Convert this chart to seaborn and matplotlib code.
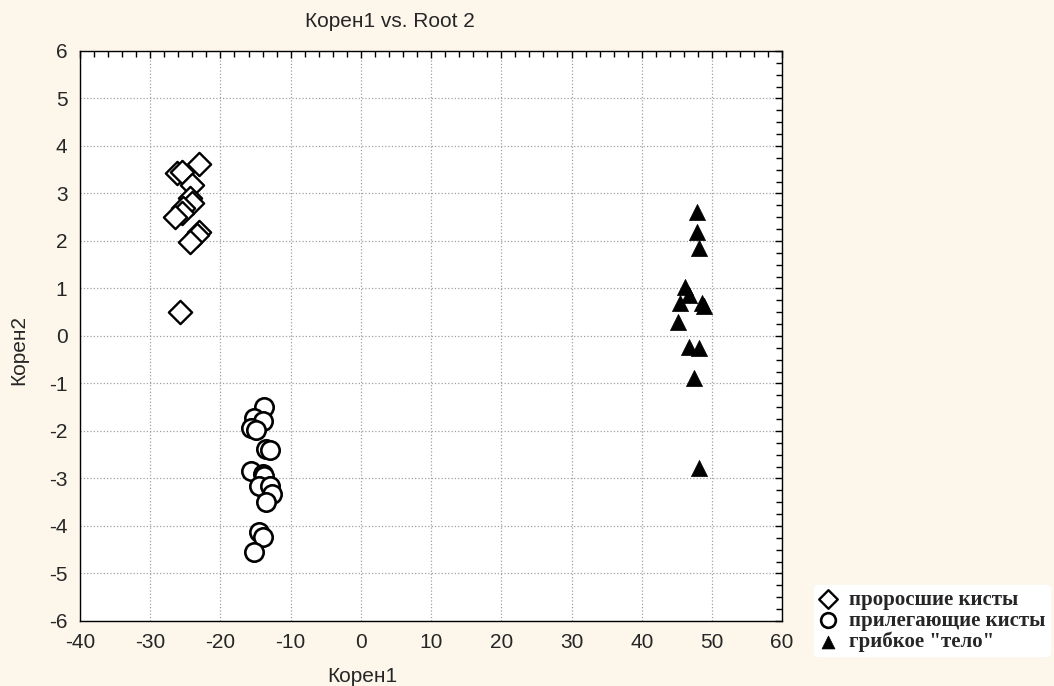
import numpy as np
import pandas as pd
import matplotlib
matplotlib.use('Agg')
import matplotlib.pyplot as plt
import seaborn as sns
from matplotlib.ticker import MultipleLocator

# Data
sprout_x = [-23.1, -26.2, -25.5, -24.0, -24.4, -24.0, -25.4, -25.5, -26.5, -23.0, -23.4, -24.4, -25.7]
sprout_y = [3.62, 3.42, 3.46, 3.17, 2.90, 2.80, 2.70, 2.58, 2.50, 2.18, 2.12, 1.97, 0.50]

adjacent_x = [-13.8, -15.2, -14.0, -15.6, -14.9, -13.5, -13.0, -15.6, -14.0, -13.8, -14.5,
              -13.0, -12.6, -13.5, -14.5, -14.0, -15.2]
adjacent_y = [-1.50, -1.72, -1.80, -1.93, -1.97, -2.39, -2.40, -2.85, -2.90, -2.95, -3.16,
              -3.16, -3.33, -3.50, -4.13, -4.24, -4.55]

body_x = [47.9, 47.9, 48.2, 46.1, 46.8, 45.5, 48.6, 48.9, 45.1, 46.8, 48.2, 47.5, 48.2]
body_y = [2.60, 2.18, 1.85, 1.03, 0.86, 0.69, 0.69, 0.63, 0.29, -0.23, -0.25, -0.88, -2.77]

groups = ['проросшие кисты', 'прилегающие кисты', 'грибкое "тело"']

df = pd.concat([
    pd.DataFrame({'Корен1': sprout_x, 'Корен2': sprout_y, 'group': groups[0]}),
    pd.DataFrame({'Корен1': adjacent_x, 'Корен2': adjacent_y, 'group': groups[1]}),
    pd.DataFrame({'Корен1': body_x, 'Корен2': body_y, 'group': groups[2]}),
])

sns.set_style('white')
plt.rcParams['font.family'] = ['Liberation Sans', 'DejaVu Sans']
plt.rcParams['axes.unicode_minus'] = False

bg = '#fcf7ea'
fig = plt.figure(figsize=(10.54, 6.86), dpi=100, facecolor=bg)
ax = fig.add_axes([0.0759, 0.0948, 0.6662, 0.831])
ax.set_facecolor('white')

# hollow diamonds, hollow circles, filled triangles
sns.scatterplot(data=df[df.group == groups[0]], x='Корен1', y='Корен2', marker='D', s=140,
                facecolor='white', edgecolor='black', linewidth=1.7, ax=ax, label=groups[0], zorder=3)
sns.scatterplot(data=df[df.group == groups[1]], x='Корен1', y='Корен2', marker='o', s=175,
                facecolor='white', edgecolor='black', linewidth=1.9, ax=ax, label=groups[1], zorder=3)
sns.scatterplot(data=df[df.group == groups[2]], x='Корен1', y='Корен2', marker='^', s=135,
                color='black', edgecolor='black', linewidth=0.5, ax=ax, label=groups[2], zorder=3)

ax.set_xlim(-40, 60)
ax.set_ylim(-6, 6)
ax.xaxis.set_major_locator(MultipleLocator(10))
ax.xaxis.set_minor_locator(MultipleLocator(2))
ax.yaxis.set_major_locator(MultipleLocator(1))
ax.yaxis.set_minor_locator(MultipleLocator(0.25))
ax.tick_params(which='both', direction='in', top=True, right=True, color='black', width=1)
ax.tick_params(which='major', length=5, labelsize=15, pad=9)
ax.tick_params(which='minor', length=4)
ax.grid(True, which='major', linestyle=':', color='#a0a0a0', linewidth=0.9)
for sp in ax.spines.values():
    sp.set_color('black')
    sp.set_linewidth(1)

ax.set_xlabel('Корен1', fontsize=15)
ax.set_ylabel('Корен2', fontsize=15)
ax.xaxis.set_label_coords(0.4017, -0.081)
ax.yaxis.set_label_coords(-0.074, 0.475)
fig.text(0.37, 0.968, 'Корен1 vs. Root 2', ha='center', va='center', fontsize=15)

ax.get_legend().remove()
handles, labels = ax.get_legend_handles_labels()
leg = fig.legend(handles, labels, loc='lower left', bbox_to_anchor=(0.762, 0.028),
                 frameon=True, facecolor='white', edgecolor='white', framealpha=1,
                 prop={'family': 'Liberation Serif', 'weight': 'bold', 'size': 15},
                 handletextpad=0.5, labelspacing=0.05, borderpad=0.2, handlelength=1.0,
                 markerscale=0.8)

fig.savefig('out.png', dpi=100, facecolor=bg)
